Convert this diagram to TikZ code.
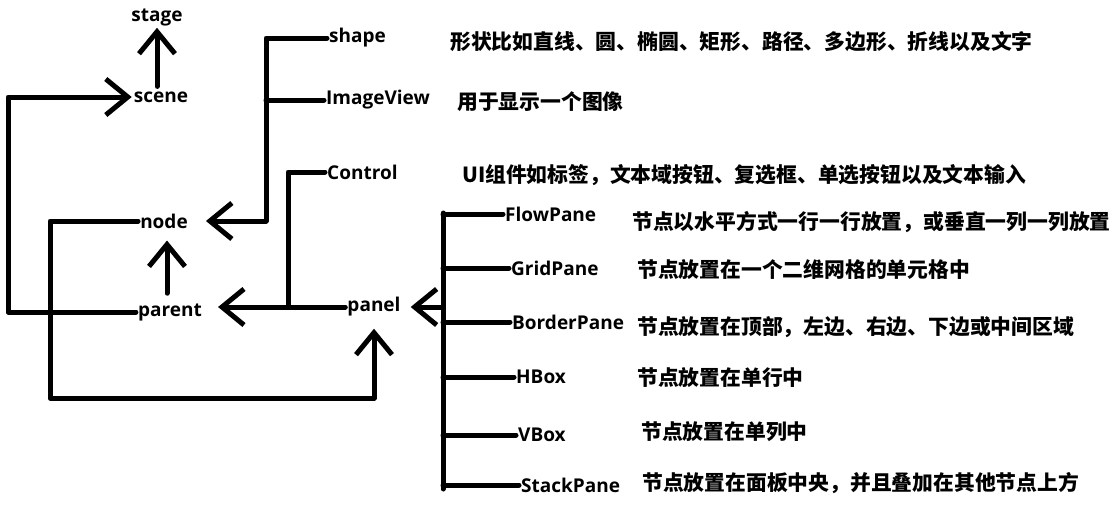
\documentclass[tikz,border=0pt]{standalone}
\usepackage{fontspec}
\setmainfont{Open Sans}
\newfontfamily\cjk{Noto Sans CJK SC}
\usepackage{tikz}
\usetikzlibrary{positioning,arrows.meta}
\tikzstyle{item} = [font=\bfseries\fontsize{19}{23}\selectfont, inner sep=2pt]
\tikzstyle{desc} = [font=\cjk\bfseries\fontsize{20.8}{24}\selectfont, anchor=west, inner sep=0pt]
\tikzstyle{wire} = [line width=5pt, line cap=round, line join=round]
\tikzstyle{arrow} = [wire, -{Straight Barb[length=22pt,width=36pt]}]

\begin{document}
\begin{tikzpicture}[x=1pt,y=-1pt]
  \useasboundingbox (0,0) rectangle (1116,504);

  % left column
  \node (stage) [item] at (157,17) {stage};
  \node (scene) [item] at (161,97) {scene};
  \node (nodebase) [item] at (164,221) {node};
  \node (parent) [item] at (170,312) {parent};
  \node (panel) [item] at (374,307) {panel};

  % upper branches
  \node (shape) [item, anchor=west] at (327,38) {shape};
  \node (imageview) [item, anchor=west] at (324,100) {ImageView};
  \node (control) [item, anchor=west] at (325,172) {Control};

  % panes
  \node (flow) [item, anchor=west] at (503,214) {FlowPane};
  \node (grid) [item, anchor=west] at (509,268) {GridPane};
  \node (border) [item, anchor=west] at (510,322) {BorderPane};
  \node (hbox) [item, anchor=west] at (514,377) {HBox};
  \node (vbox) [item, anchor=west] at (516,435) {VBox};
  \node (stack) [item, anchor=west] at (519,485) {StackPane};

  % descriptions
  \node (shapetxt) [desc] at (450,42) {形状比如直线、圆、椭圆、矩形、路径、多边形、折线以及文字};
  \node (imagetxt) [desc] at (457,102) {用于显示一个图像};
  \node (controltxt) [desc] at (462,175) {UI组件如标签，文本域按钮、复选框、单选按钮以及文本输入};
  \node (flowtxt) [desc] at (632,222) {节点以水平方式一行一行放置，或垂直一列一列放置};
  \node (gridtxt) [desc] at (637,270) {节点放置在一个二维网格的单元格中};
  \node (bordertxt) [desc] at (637,327) {节点放置在顶部，左边、右边、下边或中间区域};
  \node (hboxtxt) [desc] at (637,378) {节点放置在单行中};
  \node (vboxtxt) [desc] at (641,432) {节点放置在单列中};
  \node (stacktxt) [desc] at (642,483) {节点放置在面板中央，并且叠加在其他节点上方};

  \coordinate (leftA) at (8,316);
  \coordinate (leftB) at (50,398);
  \coordinate (shapebus) at (266,221);
  \coordinate (ctlfoot) at (288,307);
  \coordinate (bartop) at (443,213);
  \coordinate (barbot) at (443,489);

  \draw [arrow, shorten <=3pt] (scene.north -| stage.south) -- (stage.south);
  \draw [arrow] (parent.west) -- (parent.west -| leftA) |- (scene.west);
  \draw [arrow, shorten <=8pt, shorten >=10pt] (parent.north -| 167,0) -- (nodebase.south -| 167,0);
  \draw [arrow, shorten >=10pt] (nodebase.west) -| (leftB) -| (panel.south);

  \draw [wire] (shape.west) -| (shapebus);
  \draw [wire] (imageview.west) -- (imageview.west -| shapebus);
  \draw [arrow, shorten >=16pt] (shapebus) -- (shapebus -| nodebase.east);

  \draw [wire] (control.west) -| (ctlfoot);
  \draw [arrow, shorten >=14pt] (panel.west) -- (panel.west -| parent.east);

  \draw [wire] (bartop) -- (barbot);
  \foreach \p in {flow,grid,border,hbox,vbox,stack}
    \draw [wire] (\p.west) -- (\p.west -| bartop);
  \draw [arrow, shorten >=8pt] (panel.east -| bartop) -- (panel.east);
\end{tikzpicture}
\end{document}
